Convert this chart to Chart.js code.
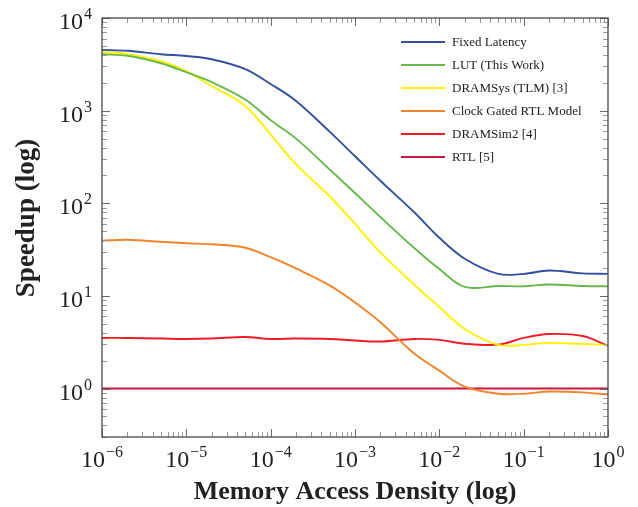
<!DOCTYPE html>
<html>
<head>
<meta charset="utf-8">
<title>Speedup vs memory access density</title>
<script src="https://cdn.jsdelivr.net/npm/chart.js@4.4.0/dist/chart.umd.min.js"></script>
<style>
  html, body { margin: 0; padding: 0; background: #fff; }
  canvas { display: block; }
</style>
</head>
<body>
<canvas id="speedupChart" width="638" height="507"></canvas>
<script>
// --- data ---
const density = [1e-6, 2e-6, 5e-6, 1e-5, 2e-5, 5e-5, 1e-4, 2e-4, 5e-4, 1e-3, 2e-3,
                 5e-3, 1e-2, 2e-2, 5e-2, 1e-1, 2e-1, 5e-1, 1];

const fixedLatency = [4530, 4425, 4060, 3890, 3590, 2805, 1937, 1273, 593, 322, 175,
                      80.5, 42.4, 25.2, 17.3, 17.3, 18.8, 17.5, 17.3];
const lutThisWork  = [4060, 3910, 3250, 2600, 2033, 1321, 787, 499, 232, 129, 71,
                      33.1, 19.5, 12.5, 12.8, 12.7, 13.3, 12.8, 12.7];
const dramSysTlm   = [4295, 4105, 3413, 2668, 1844, 1125, 551, 263, 119, 59.9, 29.5,
                      13.3, 7.6, 4.4, 2.96, 2.96, 3.11, 3.03, 2.96];
const clockGated   = [39.4, 40.4, 38.4, 37.0, 36.1, 33.1, 26.2, 19.8, 13.0, 8.5, 5.2,
                      2.4, 1.56, 1.05, 0.88, 0.88, 0.93, 0.91, 0.86];
const dramSim2     = [3.52, 3.52, 3.47, 3.43, 3.47, 3.60, 3.43, 3.47, 3.43, 3.30, 3.22,
                      3.43, 3.35, 3.05, 2.98, 3.52, 3.88, 3.69, 2.89];
const rtlRef       = [1, 1, 1, 1, 1, 1, 1, 1, 1, 1, 1, 1, 1, 1, 1, 1, 1, 1, 1];

const seriesNames  = ["Fixed Latency", "LUT (This Work)", "DRAMSys (TLM) [3]",
                      "Clock Gated RTL Model", "DRAMSim2 [4]", "RTL [5]"];
const seriesValues = [fixedLatency, lutThisWork, dramSysTlm, clockGated, dramSim2, rtlRef];
const seriesColors = ["#31509f", "#66b948", "#fff000", "#f5832a", "#ee1d25", "#c8173f"];

const xTickExps = [-6, -5, -4, -3, -2, -1, 0];
const yTickExps = [0, 1, 2, 3, 4];

const SERIF = "'Liberation Serif', 'Times New Roman', serif";

function toPoints(values) {
    return density.map((d, i) => ({ x: d, y: values[i] }));
}

// draws "10" with a raised exponent
function drawPower(ctx, exp, xPos, baseY, align) {
    const expText = exp < 0 ? "\u2212" + (-exp) : String(exp);
    ctx.font = "24px " + SERIF;
    const wBase = ctx.measureText("10").width;
    ctx.font = "16px " + SERIF;
    const wExp = ctx.measureText(expText).width;
    const total = wBase + 1 + wExp;
    const left = align === "center" ? xPos - total / 2 : xPos - total;
    ctx.textAlign = "left";
    ctx.textBaseline = "alphabetic";
    ctx.font = "24px " + SERIF;
    ctx.fillText("10", left, baseY);
    ctx.font = "16px " + SERIF;
    ctx.fillText(expText, left + wBase + 1, baseY - 10);
}

// pgfplots-like frame, inward ticks, labels, titles and legend
const axisDecor = {
    id: "axisDecor",
    afterDatasetsDraw(chart) {
        const { ctx, chartArea: a, scales: { x, y } } = chart;
        ctx.save();
        ctx.lineWidth = 1;

        const seg = (x1, y1, x2, y2) => { ctx.beginPath(); ctx.moveTo(x1, y1); ctx.lineTo(x2, y2); ctx.stroke(); };

        // x ticks (bottom + top)
        for (let e = -6; e <= 0; e++) {
            for (let m = 1; m <= 9; m++) {
                const v = m * Math.pow(10, e);
                if (v > 1.0001) break;
                const px = Math.round(x.getPixelForValue(v)) + 0.5;
                const len = m === 1 ? 8 : 5;
                ctx.strokeStyle = m === 1 ? "#6a6a6a" : "#9a9a9a";
                seg(px, a.bottom, px, a.bottom - len);
                seg(px, a.top, px, a.top + len);
            }
        }
        // y ticks (left + right)
        for (let e = -1; e <= 4; e++) {
            for (let m = 1; m <= 9; m++) {
                const v = m * Math.pow(10, e);
                if (v < y.min || v > y.max * 1.0001) continue;
                const py = Math.round(y.getPixelForValue(v)) + 0.5;
                const len = m === 1 ? 8 : 5;
                ctx.strokeStyle = m === 1 ? "#6a6a6a" : "#9a9a9a";
                seg(a.left, py, a.left + len, py);
                seg(a.right, py, a.right - len, py);
            }
        }

        // frame
        ctx.strokeStyle = "#4a4a4a";
        ctx.lineWidth = 1.3;
        ctx.strokeRect(a.left, a.top, a.right - a.left, a.bottom - a.top);

        // tick labels
        ctx.fillStyle = "#222";
        xTickExps.forEach(e => drawPower(ctx, e, x.getPixelForValue(Math.pow(10, e)), 467, "center"));
        yTickExps.forEach(e => drawPower(ctx, e, 92, y.getPixelForValue(Math.pow(10, e)) + 11, "right"));

        // axis titles
        ctx.font = "bold 26px " + SERIF;
        ctx.textAlign = "center";
        ctx.textBaseline = "alphabetic";
        ctx.fillText("Memory Access Density (log)", (a.left + a.right) / 2, 499);
        ctx.save();
        ctx.translate(34, 218);
        ctx.rotate(-Math.PI / 2);
        ctx.font = "bold 27px " + SERIF;
        ctx.fillText("Speedup (log)", 0, 0);
        ctx.restore();

        // legend
        ctx.font = "13px " + SERIF;
        ctx.textAlign = "left";
        ctx.textBaseline = "middle";
        chart.data.datasets.forEach((ds, i) => {
            const ry = 42 + i * 23;
            ctx.strokeStyle = ds.borderColor;
            ctx.lineWidth = 2.2;
            seg(401, ry, 445, ry);
            ctx.fillStyle = "#222";
            ctx.fillText(ds.label, 452, ry + 1);
        });
        ctx.restore();
    }
};

const chart = new Chart(document.getElementById("speedupChart"), {
    type: "line",
    data: {
        datasets: seriesNames.map((name, i) => ({
            label: name,
            data: toPoints(seriesValues[i]),
            borderColor: seriesColors[i],
            backgroundColor: seriesColors[i],
            borderWidth: 1.9,
            pointRadius: 0,
            tension: 0.35,
            fill: false
        }))
    },
    options: {
        responsive: false,
        devicePixelRatio: 1,
        animation: false,
        layout: { padding: { top: 18, right: 30, left: 0, bottom: 0 } },
        plugins: { legend: { display: false }, tooltip: { enabled: false } },
        scales: {
            x: {
                type: "logarithmic",
                min: 1e-6,
                max: 1,
                grid: { display: false },
                border: { display: false },
                ticks: { display: false },
                afterFit: s => { s.height = 70; }
            },
            y: {
                type: "logarithmic",
                min: 0.33,
                max: 1e4,
                grid: { display: false },
                border: { display: false },
                ticks: { display: false },
                afterFit: s => { s.width = 102; }
            }
        }
    },
    plugins: [axisDecor]
});
</script>
</body>
</html>
